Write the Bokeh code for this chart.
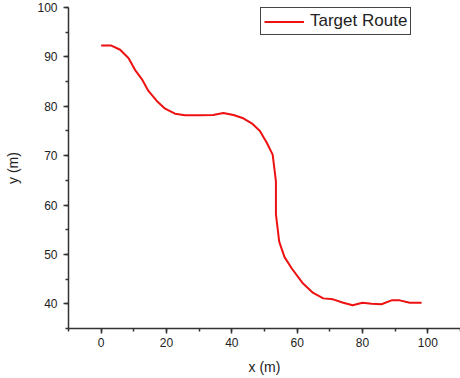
from bokeh.plotting import figure
from bokeh.models import Range1d, Legend, LegendItem, SingleIntervalTicker
from bokeh.embed import file_html
from bokeh.resources import INLINE

route_x = [0, 2.97, 5.81, 8.35, 10.4, 12.45, 14.46, 17.03, 19.57, 22.6, 25.7,
           30.0, 34.3, 37.4, 40.5, 43.5, 46.1, 48.6, 50.7, 52.5, 53.5, 53.5,
           54.5, 56.1, 58.3, 61.8, 64.9, 68.0, 71.0, 74.1, 77.0, 80.0, 82.8,
           85.8, 88.9, 91.4, 94.5, 98.1]
route_y = [92.33, 92.33, 91.45, 89.77, 87.33, 85.5, 83.1, 81.08, 79.51, 78.5,
           78.17, 78.2, 78.23, 78.64, 78.23, 77.56, 76.54, 75.0, 72.6, 70.2,
           64.8, 58.1, 52.6, 49.5, 47.2, 44.1, 42.2, 41.1, 40.9, 40.2, 39.7,
           40.2, 40.0, 39.9, 40.7, 40.7, 40.2, 40.2]
series_name = "Target Route"

p = figure(width=460, height=378, output_backend="svg", toolbar_location=None,
           x_range=Range1d(-10, 110), y_range=Range1d(35, 100),
           min_border_left=68, min_border_right=0, min_border_top=7,
           min_border_bottom=50)
p.outline_line_color = None
p.xgrid.grid_line_color = None
p.ygrid.grid_line_color = None
p.background_fill_color = "white"
p.border_fill_color = "white"

r = p.line(route_x, route_y, line_color="#ee1111", line_width=2)

p.xaxis.ticker = SingleIntervalTicker(interval=20, num_minor_ticks=2)
p.yaxis.ticker = SingleIntervalTicker(interval=10, num_minor_ticks=2)
for ax in (p.xaxis[0], p.yaxis[0]):
    ax.axis_line_color = "#333333"
    ax.axis_line_width = 1.5
    ax.major_tick_line_color = "#333333"
    ax.minor_tick_line_color = "#333333"
    ax.major_tick_line_width = 1.5
    ax.minor_tick_line_width = 1.5
    ax.major_tick_in = 0
    ax.major_tick_out = 5
    ax.minor_tick_in = 0
    ax.minor_tick_out = 3
    ax.major_label_text_font = "Liberation Sans"
    ax.major_label_text_font_size = "12px"
    ax.major_label_text_color = "#222222"
    ax.axis_label_text_font = "Liberation Sans"
    ax.axis_label_text_font_size = "14px"
    ax.axis_label_text_font_style = "normal"
    ax.axis_label_text_color = "#222222"
p.xaxis.axis_label = "x (m)"
p.yaxis.axis_label = "y (m)"
p.xaxis.major_label_standoff = 4
p.yaxis.major_label_standoff = 6
p.xaxis.axis_label_standoff = 9
p.yaxis.axis_label_standoff = 13

legend = Legend(items=[LegendItem(label=series_name, renderers=[r])],
                location=(192, 293), padding=3, margin=0, spacing=0,
                glyph_width=40, glyph_height=17, label_height=17,
                label_standoff=6, label_text_font="Liberation Sans",
                label_text_font_size="17px", label_text_color="#222222",
                border_line_color="#444444", border_line_width=1.2,
                border_line_alpha=1, background_fill_alpha=1)
p.add_layout(legend)

open("out.html", "w").write(file_html(p, INLINE))
